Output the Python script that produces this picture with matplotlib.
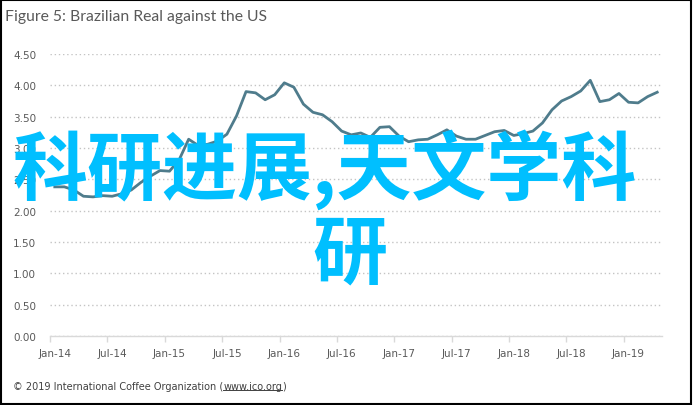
import matplotlib
matplotlib.use('Agg')
import matplotlib.pyplot as plt
from matplotlib.lines import Line2D
from matplotlib.patches import Rectangle
import numpy as np

# BRL per USD, monthly, Jan-14 .. Apr-19
valores = [2.38, 2.38, 2.33, 2.23, 2.22, 2.24, 2.23, 2.27, 2.33, 2.45, 2.55, 2.64,
           2.63, 2.81, 3.14, 3.04, 3.06, 3.11, 3.22, 3.51, 3.90, 3.88, 3.77, 3.85,
           4.04, 3.97, 3.70, 3.57, 3.53, 3.42, 3.27, 3.21, 3.24, 3.17, 3.33, 3.34,
           3.19, 3.10, 3.13, 3.14, 3.21, 3.29, 3.19, 3.14, 3.14, 3.20, 3.26, 3.28,
           3.20, 3.23, 3.27, 3.40, 3.61, 3.75, 3.82, 3.91, 4.08, 3.74, 3.77, 3.87,
           3.73, 3.72, 3.82, 3.89]
rotulos_x = ['Jan-14', 'Jul-14', 'Jan-15', 'Jul-15', 'Jan-16', 'Jul-16',
             'Jan-17', 'Jul-17', 'Jan-18', 'Jul-18', 'Jan-19']
y_ticks = [0.0, 0.5, 1.0, 1.5, 2.0, 2.5, 3.0, 3.5, 4.0, 4.5]

titulo = 'Figure 5: Brazilian Real against the US'
rodape_ini = '\u00a9 2019 International Coffee Organization ('
rodape_url = 'www.ico.org'
rodape_fim = ')'
marca_1 = '科研进展,天文学科'
marca_2 = '研'

W, H = 695, 406
fig = plt.figure(figsize=(W / 100, H / 100), dpi=100)
ax = fig.add_axes([50 / W, (H - 337) / H, 612 / W, 282 / H])

meses = np.arange(len(valores)) + 0.5
ax.plot(meses, valores, color='#4f7c8c', lw=2.0, solid_joinstyle='round', zorder=3)

ax.set_xlim(0, 64)
ax.set_ylim(0, 4.5)
ax.set_yticks(y_ticks)
ax.set_yticklabels([f'{v:.2f}' for v in y_ticks])
ax.grid(axis='y', color='#c4c4c4', lw=1.0, linestyle=(0, (1, 2)))
ax.set_axisbelow(True)

pos = np.arange(0, 61, 6)
ax.set_xticks(pos)
ax.set_xticklabels([])
ax.set_xticks(pos + 0.5, minor=True)
ax.set_xticklabels(rotulos_x, minor=True)
ax.tick_params(axis='x', which='major', length=4, width=1, color='#d9d9d9', direction='out')
ax.tick_params(axis='x', which='minor', length=0, pad=9, labelsize=7.5, labelcolor='#595959')
ax.tick_params(axis='y', length=0, pad=10, labelsize=7.5, labelcolor='#595959')
for t in ax.get_yticklabels() + ax.get_xticklabels(minor=True):
    t.set_family('DejaVu Sans')

for lado in ['top', 'right', 'left']:
    ax.spines[lado].set_visible(False)
ax.spines['bottom'].set_color('#d9d9d9')
ax.spines['bottom'].set_linewidth(1)

fig.text(5 / W, 1 - 17 / H, titulo, fontsize=11.3, color='#595959',
         family='Lato', va='center', ha='left')

# rodape com o link sublinhado
y_rod = 1 - 387 / H
t1 = fig.text(13 / W, y_rod, rodape_ini, fontsize=7, color='#404040', va='center')
fig.canvas.draw()
r = fig.canvas.get_renderer()
b1 = t1.get_window_extent(r)
t2 = fig.text(b1.x1 / W, y_rod, rodape_url, fontsize=7, color='#404040', va='center')
b2 = t2.get_window_extent(r)
fig.text(b2.x1 / W, y_rod, rodape_fim, fontsize=7, color='#404040', va='center')
fig.add_artist(Line2D([b2.x0 / W, b2.x1 / W], [(b2.y0 + 1) / H] * 2,
                      color='#404040', lw=0.7))

# marca d'agua
fig.text(12 / W, 1 - 170 / H, marca_1, fontsize=54, color='#00bfff', weight='bold',
         family=['Noto Sans CJK SC', 'DejaVu Sans'], va='center', ha='left', zorder=10)
fig.text(350 / W, 1 - 255 / H, marca_2, fontsize=54, color='#00bfff', weight='bold',
         family=['Noto Sans CJK SC', 'DejaVu Sans'], va='center', ha='center', zorder=10)

fig.add_artist(Rectangle((1 / W, 1 / H), 690 / W, 404 / H, transform=fig.transFigure,
                         fill=False, edgecolor='black', lw=1.5))

fig.savefig('out.png', dpi=100)
plt.close(fig)
